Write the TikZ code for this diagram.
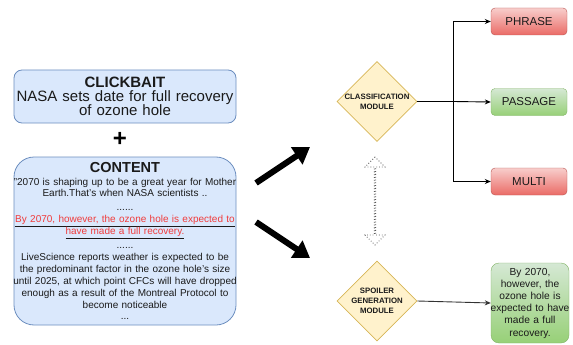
\documentclass[tikz,border=0pt]{standalone}
\usepackage{fontspec}
\setmainfont{Liberation Sans}
\usetikzlibrary{arrows.meta,shapes.geometric,shapes.arrows,calc}
\definecolor{bluefill}{HTML}{DAE8FC}
\definecolor{blueline}{HTML}{6C8EBF}
\definecolor{yelfill}{HTML}{FFF2CC}
\definecolor{yelline}{HTML}{D6B656}
\definecolor{redtop}{HTML}{F8CECC}
\definecolor{redbot}{HTML}{EA6B66}
\definecolor{redline}{HTML}{B85450}
\definecolor{grntop}{HTML}{D5E8D4}
\definecolor{grnbot}{HTML}{97D077}
\definecolor{grnline}{HTML}{82B366}
\definecolor{spoilred}{HTML}{F03C3C}
\definecolor{txt}{HTML}{1A1A1A}
\tikzset{
  inbox/.style={draw=blueline, fill=bluefill, line width=0.8pt, inner sep=0pt, align=center, text=txt},
  module/.style={diamond, draw=yelline, fill=yelfill, line width=0.8pt, minimum width=80pt, minimum height=80pt, inner sep=0pt, aspect=1, align=center, font=\fontsize{7.8}{9.8}\selectfont\bfseries, text=txt},
  redbox/.style={draw=redline, top color=redtop, bottom color=redbot, rounded corners=4pt, minimum width=76pt, minimum height=27pt, inner sep=0pt, font=\fontsize{11.5}{13}\selectfont, text=txt},
  grnbox/.style={draw=grnline, top color=grntop, bottom color=grnbot, rounded corners=4pt, minimum width=76pt, minimum height=27pt, inner sep=0pt, font=\fontsize{11.5}{13}\selectfont, text=txt},
  bigarrow/.style={line width=6pt, -{Triangle[length=16pt,width=20pt]}},
  conn/.style={line width=0.9pt, -{Stealth[length=6pt,width=5pt]}},
}
\begin{document}
\begin{tikzpicture}[x=1pt,y=-1pt]
\useasboundingbox (0,0) rectangle (573,345);

% clickbait
\node[inbox, rounded corners=8pt, minimum width=222pt, minimum height=53pt, text width=232pt, inner xsep=-5pt,
  font=\fontsize{15}{14}\selectfont] (clickbait) at (125,96.5)
  {\textbf{CLICKBAIT}\\NASA sets date for full recovery\\of ozone hole};

\node[font=\fontsize{24}{24}\selectfont\bfseries, inner sep=0pt] (plus) at (120,139) {+};

% content
\node[inbox, rounded corners=20pt, minimum width=222pt, minimum height=168pt, text width=232pt, inner xsep=-5pt,
  font=\fontsize{10}{11.9}\selectfont] (content) at (125,241)
  {{\fontsize{14.5}{14}\selectfont\bfseries CONTENT}\\[1pt]
   "2070 is shaping up to be a great year for Mother\\
   Earth.That's when NASA scientists ..\\[2pt]
   ......\\
   \underline{\textcolor{spoilred}{By 2070, however, the ozone hole is expected to}}\\
   \underline{\textcolor{spoilred}{have made a full recovery.}}\\[2pt]
   ......\\
   LiveScience reports weather is expected to be\\
   the predominant factor in the ozone hole's size\\
   until 2025, at which point CFCs will have dropped\\
   enough as a result of the Montreal Protocol to\\
   become noticeable\\
   ...};

% modules
\node[module] (cls) at (377,101.5) {CLASSIFICATION\\MODULE};
\node[module] (spoil) at (377,301) {SPOILER\\GENERATION\\MODULE};

% outputs
\node[redbox] (phrase) at (529,21.5) {PHRASE};
\node[grnbox] (passage) at (529,102) {PASSAGE};
\node[redbox] (multi) at (529,181.5) {MULTI};
\node[grnbox, rounded corners=8pt, minimum width=78pt, minimum height=80pt, text width=86pt, inner xsep=-4pt, align=center,
  font=\fontsize{10.2}{12.2}\selectfont] (answer) at (530,303)
  {By 2070,\\however, the\\ozone hole is\\expected to have\\made a full\\recovery.};

% thick arrows
\coordinate (a1s) at (256,183);
\coordinate (a1e) at (310,147);
\coordinate (a2s) at (256,222);
\coordinate (a2e) at (310,258);
\draw[bigarrow] (a1s) -- (a1e);
\draw[bigarrow] (a2s) -- (a2e);

% dashed double arrow
\node[double arrow, draw=black!65, dotted, line width=0.8pt, fill=white, rotate=90, minimum height=88pt, minimum width=20pt,
  double arrow head extend=6pt, inner sep=0pt] (link) at (375,201) {};

% connectors
\coordinate (br) at (453,101.5);
\draw[line width=1.4pt] (cls.east) -- (br);
\draw[conn] (br) |- (phrase.west);
\draw[conn] (br) -- (passage.west);
\draw[conn] (br) |- (multi.west);
\draw[conn, draw=black!80] (spoil.east) -- (answer.west);
\end{tikzpicture}
\end{document}
